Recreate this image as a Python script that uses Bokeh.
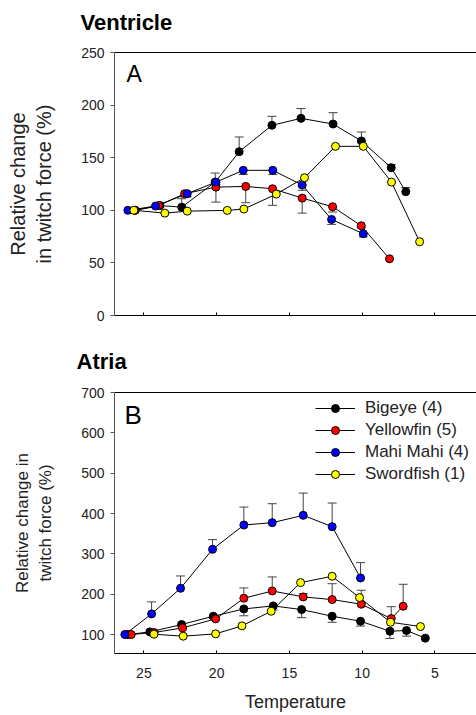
from bokeh.plotting import figure
from bokeh.models import (Range1d, FixedTicker, LinearAxis, Label, Whisker, TeeHead,
                          ColumnDataSource, Legend, LegendItem, Title)
from bokeh.layouts import column
from bokeh.embed import file_html
from bokeh.resources import INLINE

FONT = "Liberation Sans"

species = ["Bigeye (4)", "Yellowfin (5)", "Mahi Mahi (4)", "Swordfish (1)"]
colors = ["black", "red", "blue", "yellow"]

# ---------------- Ventricle (panel A) ----------------
v_bigeye_t = [25.6, 23.9, 22.4, 20.1, 18.45, 16.2, 14.2, 12.0, 10.05, 8.0, 7.0]
v_bigeye_y = [100, 104.5, 103, 126.8, 155.7, 180.8, 187.4, 182, 165.9, 140.5, 117.7]
v_bigeye_eu = [0, 2, 8, 8.6, 14, 8.5, 9.3, 10.8, 8.5, 3, 4]
v_bigeye_ed = [0] * 11

v_yellowfin_t = [25.6, 23.97, 22.2, 20.05, 18.0, 16.16, 14.12, 12.03, 10.06, 8.12]
v_yellowfin_y = [100, 104.6, 115.8, 122, 122.7, 120.5, 111.6, 103.4, 85.3, 53.9]
v_yellowfin_eu = [0] * 10
v_yellowfin_ed = [0, 2, 3, 14.2, 15.5, 15.8, 14.3, 5, 2, 0]

v_mahi_t = [26.1, 24.2, 22.02, 20.05, 18.17, 16.14, 14.12, 12.1, 9.92]
v_mahi_y = [100, 104, 115.8, 126.8, 138, 138, 124, 91.3, 77.7]
v_mahi_eu = [0] * 9
v_mahi_ed = [0, 1, 3, 2, 4, 4, 5, 4.7, 3]

v_sword_t = [25.69, 23.56, 22.02, 19.27, 18.13, 15.9, 13.96, 11.83, 9.92, 7.98, 6.05]
v_sword_y = [100, 97.3, 99.2, 99.9, 101.2, 115.4, 131, 160.8, 160.8, 126.8, 70.1]
v_sword_eu = [0] * 11
v_sword_ed = [0] * 11

# ---------------- Atria (panel B) ----------------
a_bigeye_t = [26.1, 24.59, 22.41, 20.23, 18.13, 16.11, 14.16, 12.06, 10.11, 8.09, 6.95, 5.66]
a_bigeye_y = [100, 106.6, 124.8, 145.4, 163.5, 171, 161.9, 145.4, 133, 108.3, 110, 91]
a_bigeye_eu = [0] * 12
a_bigeye_ed = [0, 3, 4, 5, 17, 10, 20, 15, 12, 18, 14, 0]

a_yellowfin_t = [25.87, 24.3, 22.34, 20.07, 18.13, 16.18, 14.05, 12.06, 10.06, 8.0, 7.18]
a_yellowfin_y = [100, 105, 116.5, 138.8, 190, 208, 193.3, 186.7, 175.1, 139.6, 170.1]
a_yellowfin_eu = [0, 3, 4, 5, 25.5, 34.8, 8, 39.3, 34.7, 29.4, 54.5]
a_yellowfin_ed = [0] * 11

a_mahi_t = [26.31, 24.47, 22.48, 20.28, 18.13, 16.18, 14.05, 12.06, 10.11]
a_mahi_y = [100, 151.2, 214.7, 311.3, 371.5, 377.3, 395.5, 367.4, 240.3]
a_mahi_eu = [0, 29.7, 30.5, 24, 44.5, 47, 55.2, 58.6, 38]
a_mahi_ed = [0] * 9

a_sword_t = [24.31, 22.3, 20.07, 18.26, 16.25, 14.23, 12.06, 10.18, 8.05, 5.99]
a_sword_y = [100.8, 95.9, 101.7, 121.5, 157.8, 228.7, 244.4, 191.6, 130.5, 119.8]
a_sword_eu = [0] * 10
a_sword_ed = [0] * 10

x_ticks = [25, 20, 15, 10, 5]
v_y_ticks = [0, 50, 100, 150, 200, 250]
a_y_ticks = [100, 200, 300, 400, 500, 600, 700]

ventricle = [
    (v_bigeye_t, v_bigeye_y, v_bigeye_eu, v_bigeye_ed),
    (v_yellowfin_t, v_yellowfin_y, v_yellowfin_eu, v_yellowfin_ed),
    (v_mahi_t, v_mahi_y, v_mahi_eu, v_mahi_ed),
    (v_sword_t, v_sword_y, v_sword_eu, v_sword_ed),
]
atria = [
    (a_bigeye_t, a_bigeye_y, a_bigeye_eu, a_bigeye_ed),
    (a_yellowfin_t, a_yellowfin_y, a_yellowfin_eu, a_yellowfin_ed),
    (a_mahi_t, a_mahi_y, a_mahi_eu, a_mahi_ed),
    (a_sword_t, a_sword_y, a_sword_eu, a_sword_ed),
]

X_RANGE = (27.02, 2.14)
W = 476
HAS_STANDOFF = "standoff" in Title.properties()


def title_fig(text, height, offset, standoff):
    t = figure(width=W, height=height, output_backend="svg", toolbar_location=None,
               x_range=Range1d(0, 1), y_range=Range1d(0, 1),
               x_axis_type=None, y_axis_type=None, title=None,
               min_border_left=0, min_border_right=0, min_border_top=0, min_border_bottom=0)
    t.outline_line_color = None
    tt = Title(text=text, align="left", offset=offset, text_font=FONT,
               text_font_size="22px", text_font_style="bold", text_color="black")
    if HAS_STANDOFF:
        tt.standoff = standoff
    t.add_layout(tt, "above")
    return t


def make_fig(height, y_range, y_ticks, border_top, border_bottom, show_x_labels,
             ylabel, ylabel_size, ylabel_standoff):
    p = figure(width=W, height=height, x_range=Range1d(*X_RANGE), y_range=Range1d(*y_range),
               output_backend="svg", toolbar_location=None,
               min_border_left=114, min_border_right=0,
               min_border_top=border_top, min_border_bottom=border_bottom)
    p.outline_line_color = None
    p.grid.grid_line_color = None
    p.background_fill_color = "white"

    ya = p.yaxis[0]
    ya.ticker = FixedTicker(ticks=y_ticks)
    ya.axis_line_color = "#555555"
    ya.major_tick_line_color = "#555555"
    ya.major_tick_out = 4
    ya.major_tick_in = 0
    ya.minor_tick_line_color = None
    ya.major_label_text_font = FONT
    ya.major_label_text_font_size = "14px"
    ya.major_label_text_color = "#222222"
    ya.major_label_standoff = 6
    ya.axis_label = ylabel
    ya.axis_label_text_font = FONT
    ya.axis_label_text_font_size = ylabel_size
    ya.axis_label_text_font_style = "normal"
    ya.axis_label_text_color = "#222222"
    ya.axis_label_standoff = ylabel_standoff
    ya.axis_label_text_align = "center"

    xa = p.xaxis[0]
    xa.ticker = FixedTicker(ticks=x_ticks)
    xa.axis_line_color = "black"
    xa.major_tick_line_color = "black"
    xa.major_tick_in = 3
    xa.major_tick_out = 0
    xa.minor_tick_line_color = None
    xa.major_label_text_font = FONT
    if show_x_labels:
        xa.major_label_text_font_size = "14px"
        xa.major_label_text_color = "#222222"
        xa.major_label_standoff = 14
        xa.axis_label = "Temperature"
        xa.axis_label_text_font = FONT
        xa.axis_label_text_font_size = "18px"
        xa.axis_label_text_font_style = "normal"
        xa.axis_label_text_color = "#222222"
        xa.axis_label_standoff = 11
    else:
        xa.major_label_text_font_size = "1px"
        xa.major_label_text_alpha = 0
        xa.major_label_standoff = 0

    # top frame line: an axis with no visible ticks or labels
    top = LinearAxis(ticker=FixedTicker(ticks=[25]), major_label_text_font_size="1px",
                     major_label_text_alpha=0, major_label_standoff=0,
                     major_tick_in=0, major_tick_out=0,
                     axis_line_color="black", major_tick_line_color=None,
                     minor_tick_line_color=None)
    p.add_layout(top, "above")
    return p


def draw_series(p, data):
    renderers = []
    for (t, y, eu, ed), col in zip(data, colors):
        up_idx = [i for i in range(len(t)) if eu[i] > 0]
        dn_idx = [i for i in range(len(t)) if ed[i] > 0]
        if up_idx:
            src = ColumnDataSource(dict(base=[t[i] for i in up_idx],
                                        lower=[y[i] for i in up_idx],
                                        upper=[y[i] + eu[i] for i in up_idx]))
            p.add_layout(Whisker(source=src, base="base", lower="lower", upper="upper",
                                 line_color="#444444", line_width=1,
                                 upper_head=TeeHead(size=9, line_color="#444444", line_width=1),
                                 lower_head=None))
        if dn_idx:
            src = ColumnDataSource(dict(base=[t[i] for i in dn_idx],
                                        upper=[y[i] for i in dn_idx],
                                        lower=[y[i] - ed[i] for i in dn_idx]))
            p.add_layout(Whisker(source=src, base="base", lower="lower", upper="upper",
                                 line_color="#444444", line_width=1,
                                 lower_head=TeeHead(size=9, line_color="#444444", line_width=1),
                                 upper_head=None))
    for (t, y, eu, ed), col in zip(data, colors):
        ln = p.line(t, y, line_color="black", line_width=1)
        renderers.append([ln])
    for k, ((t, y, eu, ed), col) in enumerate(zip(data, colors)):
        sc = p.scatter(t, y, size=8, marker="circle", fill_color=col,
                       line_color="black", line_width=1)
        renderers[k].append(sc)
    return renderers


def panel_letter(p, x, y, text, size):
    p.add_layout(Label(x=x, y=y, x_units="screen", y_units="screen", text=text,
                       text_font=FONT, text_font_size=size, text_align="left",
                       text_baseline="alphabetic", text_color="black"))


# ---------- Ventricle ----------
# (column aligns the frames of its children, so the title offset is measured from x=114)
t1 = title_fig("Ventricle", 44, -34, 14)
p1 = make_fig(303, (0, 250), v_y_ticks, 8, 32, False,
              "Relative change\nin twitch force (%)", "20px", 23)
draw_series(p1, ventricle)
panel_letter(p1, 12, 242, "A", "23px")

# ---------- Atria ----------
t2 = title_fig("Atria", 26, -38, 0)
p2 = make_fig(342, (53, 700), a_y_ticks, 19, 62, True,
              "Relative change in\ntwitch force (%)", "17px", 23)
rends = draw_series(p2, atria)
panel_letter(p2, 10, 239, "B", "26px")

legend = Legend(items=[LegendItem(label=s, renderers=r) for s, r in zip(species, rends)],
                location=(201, 169), padding=0, spacing=2, glyph_width=40, glyph_height=20,
                label_height=20, label_standoff=10, label_text_font=FONT,
                label_text_font_size="17px", label_text_color="#222222",
                border_line_color=None, background_fill_alpha=0)
p2.add_layout(legend)

layout = column(t1, p1, t2, p2)
open("out.html", "w").write(file_html(layout, INLINE))
